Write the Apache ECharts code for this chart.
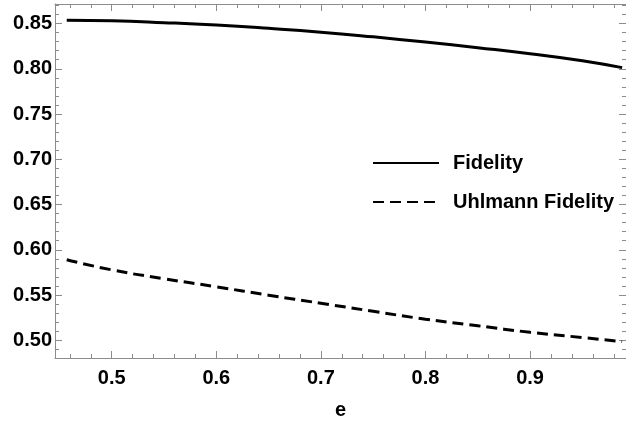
<!DOCTYPE html>
<html>
<head>
<meta charset="utf-8">
<script src="https://cdn.jsdelivr.net/npm/echarts@6/dist/echarts.min.js"></script>
<style>
  html, body { margin: 0; padding: 0; background: #fff; }
  #chart { width: 626px; height: 429px; }
</style>
</head>
<body>
<div id="chart"></div>
<script>
// e values and curves
const eValues = [0.457, 0.5, 0.55, 0.6, 0.65, 0.7, 0.75, 0.8, 0.85, 0.9, 0.95, 0.988];
const fidelity = [0.8537, 0.8531, 0.8510, 0.8483, 0.8447, 0.8405, 0.8353, 0.8295, 0.8233, 0.8167, 0.8090, 0.8013];
const uhlmann = [0.5890, 0.5778, 0.5680, 0.5591, 0.5498, 0.5409, 0.5320, 0.5233, 0.5160, 0.5088, 0.5030, 0.4985];

const xMin = 0.4458, xMax = 0.9917;
const yMin = 0.4804, yMax = 0.8716;

const frameColor = "#8c8c8c";
const labelFont = { fontFamily: "Liberation Sans", fontWeight: "bold", fontSize: 20, color: "#000" };

function pairs(xs, ys) {
  return xs.map((x, i) => [x, ys[i]]);
}

// major axis (labels, long ticks) and a minor axis overlay (short ticks)
function xAxisPair(position, withLabels) {
  return [
    {
      type: "value", position: position, min: xMin, max: xMax, splitNumber: 5,
      axisLine: { show: true, onZero: false, lineStyle: { color: frameColor, width: 1 } },
      axisTick: { show: true, inside: true, length: 7, lineStyle: { color: frameColor } },
      axisLabel: withLabels
        ? Object.assign({ show: true, margin: 10, showMinLabel: false, showMaxLabel: false,
            formatter: (v) => v.toFixed(1) }, labelFont)
        : { show: false },
      splitLine: { show: false },
      name: withLabels ? "e" : "",
      nameLocation: "middle",
      nameGap: 42,
      nameTextStyle: labelFont,
    },
    {
      type: "value", position: position, min: xMin, max: xMax, splitNumber: 27,
      axisLine: { show: false, onZero: false },
      axisTick: { show: true, inside: true, length: 4, lineStyle: { color: frameColor } },
      axisLabel: { show: false },
      splitLine: { show: false },
    },
  ];
}

function yAxisPair(position, withLabels) {
  return [
    {
      type: "value", position: position, min: yMin, max: yMax, splitNumber: 8,
      axisLine: { show: true, onZero: false, lineStyle: { color: frameColor, width: 1 } },
      axisTick: { show: true, inside: true, length: 7, lineStyle: { color: frameColor } },
      axisLabel: withLabels
        ? Object.assign({ show: true, margin: 3, showMinLabel: false, showMaxLabel: false,
            formatter: (v) => v.toFixed(2) }, labelFont)
        : { show: false },
      splitLine: { show: false },
    },
    {
      type: "value", position: position, min: yMin, max: yMax, splitNumber: 39,
      axisLine: { show: false, onZero: false },
      axisTick: { show: true, inside: true, length: 4, lineStyle: { color: frameColor } },
      axisLabel: { show: false },
      splitLine: { show: false },
    },
  ];
}

const chart = echarts.init(document.getElementById("chart"), null, { renderer: "canvas" });

chart.setOption({
  animation: false,
  backgroundColor: "#fff",
  grid: { left: 55, right: 0, top: 4, bottom: 71, containLabel: false },
  xAxis: xAxisPair("bottom", true).concat(xAxisPair("top", false)),
  yAxis: yAxisPair("left", true).concat(yAxisPair("right", false)),
  legend: {
    orient: "vertical",
    left: 372,
    top: 153,
    padding: 0,
    itemWidth: 66,
    itemHeight: 20,
    itemGap: 19,
    itemStyle: { opacity: 0 },
    textStyle: Object.assign({ padding: [0, 0, 0, 9] }, labelFont),
    data: ["Fidelity", "Uhlmann Fidelity"],
  },
  series: [
    {
      name: "Fidelity",
      type: "line",
      xAxisIndex: 0,
      yAxisIndex: 0,
      data: pairs(eValues, fidelity),
      smooth: true,
      symbol: "none",
      lineStyle: { color: "#000", width: 3 },
      itemStyle: { color: "#000" },
    },
    {
      name: "Uhlmann Fidelity",
      type: "line",
      xAxisIndex: 0,
      yAxisIndex: 0,
      data: pairs(eValues, uhlmann),
      smooth: true,
      symbol: "none",
      lineStyle: { color: "#000", width: 3, type: [11, 6] },
      itemStyle: { color: "#000" },
    },
  ],
});
</script>
</body>
</html>
